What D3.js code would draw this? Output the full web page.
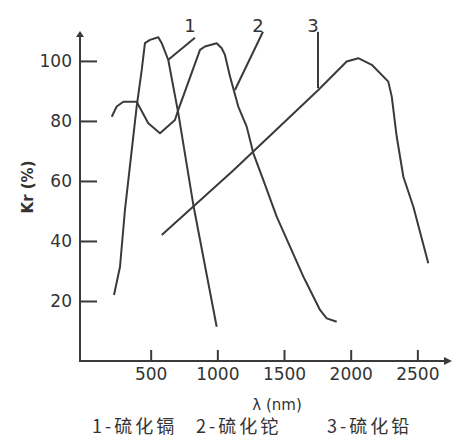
<!DOCTYPE html>
<html>
<head>
<meta charset="utf-8">
<script src="https://cdn.jsdelivr.net/npm/d3@7"></script>
<style>
  body { margin: 0; background: #fff; }
  text { font-family: "DejaVu Sans", sans-serif; fill: #333; }
</style>
</head>
<body>
<div class="chart"></div>
<script>
// wavelength (nm) / relative sensitivity (%)
const cdsX = [225, 270, 307, 358, 395, 433, 457, 495, 557, 583, 632, 707, 820, 995];
const cdsY = [22, 31.4, 50.3, 70.3, 84.8, 97, 105.9, 107, 107.9, 105.9, 100.3, 82.6, 52, 11.4];

const tlsX = [208, 245, 295, 395, 482, 570, 682, 707, 870, 907, 995, 1033, 1057, 1095, 1157, 1220, 1270, 1345, 1445, 1545, 1645, 1670, 1770, 1820, 1895];
const tlsY = [81.4, 84.8, 86.4, 86.4, 79.2, 75.9, 80.3, 83.7, 103.7, 104.8, 105.9, 104.2, 102, 94.8, 84.8, 78.1, 69.2, 60.3, 48.1, 38.1, 28.1, 25.9, 17, 14.2, 13.1];

const pbsX = [583, 1119, 1757, 1970, 2057, 2158, 2282, 2308, 2345, 2395, 2470, 2582];
const pbsY = [42, 63.5, 90.3, 99.8, 100.9, 98.7, 93.1, 88.1, 74.8, 61.4, 51.4, 32.6];

const xTicks = [500, 1000, 1500, 2000, 2500];
const yTicks = [20, 40, 60, 80, 100];

const curveNames = ["1", "2", "3"];
// leader line for each curve label: [from x, from y, to x, to y] in data units
const leaders = [
  [832, 107.7, 630, 100.3],
  [1342, 109.7, 1132, 90.3],
  [1755, 109.7, 1755, 90.9]
];
const legendItems = ["1-硫化镉", "2-硫化铊", "3-硫化铅"];

const width = 459;
const height = 439;

const svg = d3.select(".chart")
  .append("svg")
  .attr("width", width)
  .attr("height", height);

const x = d3.scaleLinear().domain([-30, 2750]).range([80, 450.7]);
const y = d3.scaleLinear().domain([0, 109.3]).range([361, 33]);

const ink = "#3a3a3a";

// x axis, ticks pointing up
const xAxis = d3.axisBottom(x)
  .tickValues(xTicks)
  .tickFormat(d3.format("d"))
  .tickSizeInner(-11)
  .tickSizeOuter(0)
  .tickPadding(7);

svg.append("g")
  .attr("transform", `translate(0, ${y(0)})`)
  .call(xAxis)
  .call(g => g.select(".domain").remove())
  .call(g => g.selectAll(".tick line").attr("stroke", ink).attr("stroke-width", 2))
  .call(g => g.selectAll(".tick text")
    .style("font-size", "17px")
    .style("fill", "#333"));

// y axis, ticks pointing right
const yAxis = d3.axisLeft(y)
  .tickValues(yTicks)
  .tickFormat(d3.format("d"))
  .tickSizeInner(-17)
  .tickSizeOuter(0)
  .tickPadding(8);

svg.append("g")
  .attr("transform", `translate(${x(-30)}, 0)`)
  .call(yAxis)
  .call(g => g.select(".domain").remove())
  .call(g => g.selectAll(".tick line").attr("stroke", ink).attr("stroke-width", 2))
  .call(g => g.selectAll(".tick text")
    .style("font-size", "17px")
    .style("fill", "#333"));

// axis lines with arrows
svg.append("line")
  .attr("x1", x(-30)).attr("y1", y(0))
  .attr("x2", 448).attr("y2", y(0))
  .attr("stroke", ink).attr("stroke-width", 2);
svg.append("path")
  .attr("d", `M452,${y(0)} L444,${y(0) - 4} L444,${y(0) + 4} Z`)
  .attr("fill", ink);

svg.append("line")
  .attr("x1", x(-30)).attr("y1", y(0) + 1)
  .attr("x2", x(-30)).attr("y2", 36)
  .attr("stroke", ink).attr("stroke-width", 2);
svg.append("path")
  .attr("d", `M${x(-30)},31 L${x(-30) - 4},37 L${x(-30) + 4},37 Z`)
  .attr("fill", ink);

// curves
const line = d3.line()
  .x(d => x(d[0]))
  .y(d => y(d[1]));

const series = [
  d3.zip(cdsX, cdsY),
  d3.zip(tlsX, tlsY),
  d3.zip(pbsX, pbsY)
];

svg.selectAll("path.curve")
  .data(series)
  .enter()
  .append("path")
  .attr("class", "curve")
  .attr("d", line)
  .attr("fill", "none")
  .attr("stroke", ink)
  .attr("stroke-width", 2)
  .attr("stroke-linejoin", "round");

// curve labels with leader lines
svg.selectAll("line.leader")
  .data(leaders)
  .enter()
  .append("line")
  .attr("class", "leader")
  .attr("x1", d => x(d[0])).attr("y1", d => y(d[1]))
  .attr("x2", d => x(d[2])).attr("y2", d => y(d[3]))
  .attr("stroke", ink)
  .attr("stroke-width", 2);

svg.selectAll("text.name")
  .data(curveNames)
  .enter()
  .append("text")
  .attr("class", "name")
  .attr("x", (d, i) => x(leaders[i][0]) - 5)
  .attr("y", 32)
  .attr("text-anchor", "middle")
  .style("font-size", "18px")
  .text(d => d);

// axis titles
svg.append("text")
  .attr("x", 277)
  .attr("y", 410)
  .attr("text-anchor", "middle")
  .style("font-size", "15px")
  .text("λ (nm)");

svg.append("text")
  .attr("transform", "translate(33, 187) rotate(-90)")
  .attr("text-anchor", "middle")
  .style("font-size", "15px")
  .style("font-weight", "bold")
  .text("Kr (%)");

// legend line
const legendX = [92, 196, 327];
svg.selectAll("text.legend")
  .data(legendItems)
  .enter()
  .append("text")
  .attr("class", "legend")
  .attr("x", (d, i) => legendX[i])
  .attr("y", 433)
  .style("font-family", "'Noto Sans CJK SC', sans-serif")
  .style("font-size", "18px")
  .style("letter-spacing", "3px")
  .text(d => d);
</script>
</body>
</html>
